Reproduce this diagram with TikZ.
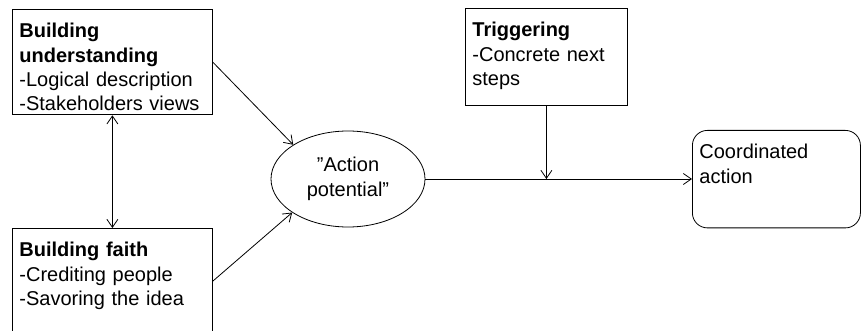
\documentclass[tikz,border=0pt]{standalone}
\usepackage{fontspec}
\setmainfont{Liberation Sans}
\usetikzlibrary{arrows.meta,shapes.geometric}
\tikzset{
  box/.style={draw, line width=0.8pt, anchor=north west, align=left, inner xsep=7pt, inner ysep=14pt, font=\fontsize{20}{24.3}\selectfont},
  endbox/.style={box, rounded corners=15pt},
  pot/.style={draw, ellipse, line width=0.8pt, minimum width=154pt, minimum height=96pt, inner sep=0pt, align=center, font=\fontsize{20}{25}\selectfont},
  arr/.style={->, line width=0.8pt}}

\begin{document}
\begin{tikzpicture}[x=1pt, y=-1pt, >={Straight Barb[length=8pt,width=11pt]}]
  \useasboundingbox (0,0) rectangle (861,331);
  \clip (0,0) rectangle (861,331);
  % the four boxes and the ellipse
  \node[box, text width=186pt, text depth=63pt] (understand) at (12,9) {\textbf{Building}\\\textbf{understanding}\\-Logical description\\-Stakeholders views};
  \node[box, text width=186pt, text depth=63pt] (faith) at (12,228) {\textbf{Building faith}\\-Crediting people\\-Savoring the idea};
  \node[box, text width=148pt, text depth=55pt] (trigger) at (465,8) {\textbf{Triggering}\\-Concrete next\\steps};
  \node[pot] (potential) at (348,179) {”Action\\potential”};
  \node[endbox, text width=154pt, text depth=55pt] (action) at (692,130) {Coordinated\\action};
  \coordinate (join) at (trigger.south |- potential.east);
  % connectors
  \draw[arr] (understand.east) -- (potential.148);
  \draw[arr] (faith.east) -- (potential.211);
  \draw[arr, <->] (understand.south) -- (faith.north);
  \draw[arr] (potential.east) -- (potential.east -| action.west);
  \draw[arr] (trigger.south) -- (join);
\end{tikzpicture}
\end{document}
